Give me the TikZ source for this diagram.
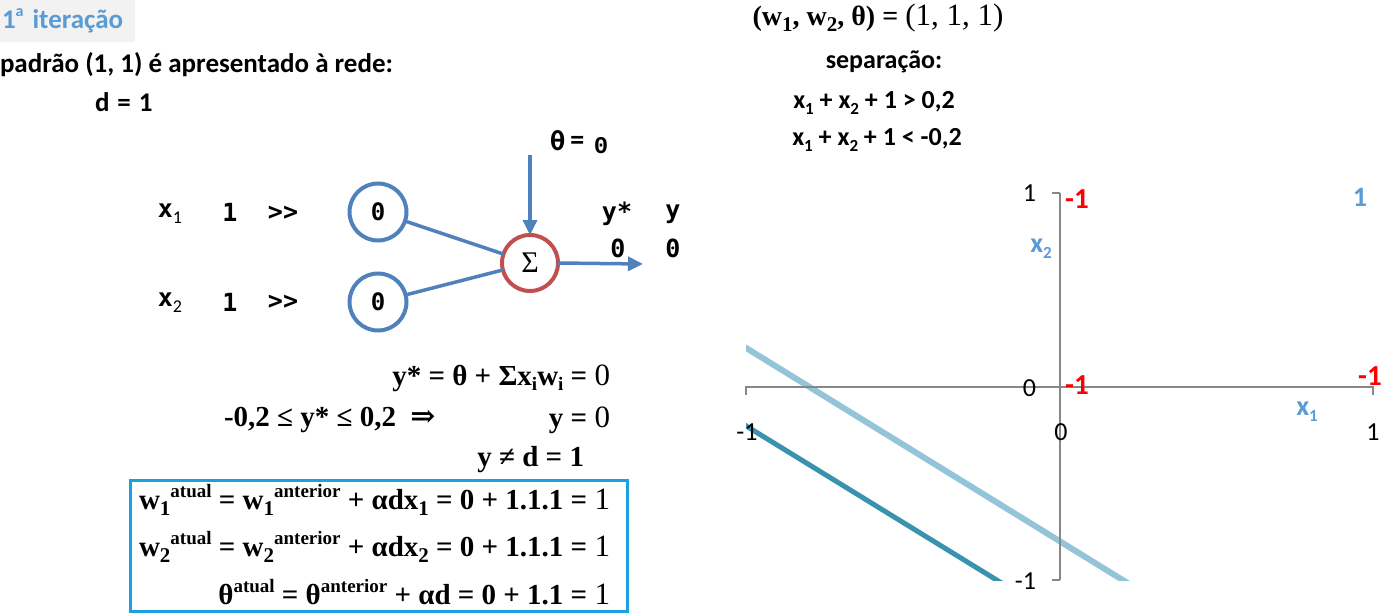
\documentclass[tikz,border=0pt]{standalone}
\usepackage{fontspec}
\setmainfont{Liberation Serif}
\newfontfamily\calib{Carlito}
\newfontfamily\dmono{DejaVu Sans Mono}
\newfontfamily\lmono{Liberation Mono}
\newfontfamily\dserif{DejaVu Serif}
\usetikzlibrary{arrows.meta}
\definecolor{titleblue}{HTML}{5B9BD5}
\definecolor{nblue}{HTML}{4F81BD}
\definecolor{nred}{HTML}{C0504D}
\definecolor{boxblue}{HTML}{1BA1E2}
\definecolor{lblue}{HTML}{93C4D8}
\definecolor{dteal}{HTML}{3A93AE}
\definecolor{axgray}{HTML}{878787}
\definecolor{bggray}{HTML}{F2F2F2}
\newcommand\fsz[1]{\fontsize{#1}{#1}\selectfont}
\newcommand\supx[1]{\raisebox{0.4em}{\fsz{19}#1}}
\newcommand\subx[1]{\raisebox{-0.2em}{\fsz{21}#1}}
\newcommand\subi[1]{\raisebox{-0.2em}{\fsz{19}#1}}
\newcommand\subc[1]{\raisebox{-0.2em}{\fsz{17}#1}}
\newcommand\subm[1]{\raisebox{-0.25em}{\calib\mdseries\fsz{18}#1}}
\newcommand\lastd[1]{{\mdseries\fsz{31}#1}}
\begin{document}
\begin{tikzpicture}[x=1pt,y=-1pt,
  every node/.style={inner sep=0pt, outer sep=0pt},
  cb/.style={font=\calib\bfseries\fsz{26}},
  mn/.style={font=\dmono\bfseries\fsz{25}},
  fml/.style={font=\bfseries\fsz{29}},
  incirc/.style={circle, draw=nblue, line width=4, minimum size=57, font=\dmono\bfseries\fsz{24}},
  sumcirc/.style={circle, draw=nred, line width=4, minimum size=56, font=\fsz{30}},
  conn/.style={nblue, line width=3.5},
  arr/.style={conn, -{Triangle[length=15pt,width=14pt]}},
  tick/.style={font=\calib\fsz{26}},
  redl/.style={font=\calib\bfseries\fsz{29}, text=red},
  axl/.style={font=\calib\bfseries\fsz{28}, text=titleblue}
]
\useasboundingbox (0,0) rectangle (1385,613);

% title and header
\node[anchor=north west, fill=bggray, minimum height=42, text width=131, inner xsep=2, align=left, font=\calib\bfseries\fsz{27}, text=titleblue] (title) at (0,0) {1\raisebox{0.45em}{\fsz{16}a} iteração};
\node[font=\calib\bfseries\fsz{27}, anchor=west] (pad) at (0,65) {padrão (1, 1) é apresentado à rede:};
\node[font=\calib\bfseries\fsz{27}, anchor=west] (d) at (95,102) {d\kern8pt=\kern8pt1};

% neuron
\node[mn] (x1) at (170,214) {x\subm{1}};
\node[mn] (v1) at (230,212) {1};
\node[mn] (g1) at (283,213) {>\kern0pt>};
\node[mn] (x2) at (170,303) {x\subm{2}};
\node[mn] (v2) at (230,302) {1};
\node[mn] (g2) at (283,302) {>\kern0pt>};

\node[incirc] (n1) at (378,212) {0};
\node[incirc] (n2) at (378,302) {0};
\node[sumcirc] (s) at (530,263) {Σ};
\draw[conn] (n1) -- (s);
\draw[conn] (n2) -- (s);
\coordinate (thtop) at (530,155);
\draw[arr] (thtop) -- (s.north);
\coordinate (yout) at (643,264);
\draw[arr] (s.east) -- (yout);

\node[font=\dmono\bfseries\fsz{26}] (th) at (567,141) {θ\kern5pt\raisebox{3pt}{\fsz{23}=}};
\node[font=\lmono\bfseries\fsz{24}] (thv) at (601,146) {0};
\node[mn] (ys) at (617,214) {y*};
\node[mn] (y) at (673,214) {y};
\node[mn] (ysv) at (618,248) {0};
\node[mn] (yv) at (673,248) {0};

% formulas
\node[fml, anchor=east] (f1) at (610,378) {y* = θ + Σx\subi{i}w\subi{i} = \lastd{0}};
\node[fml, anchor=west] (f2) at (224,420) {-0,2 ≤ y* ≤ 0,2\ \ {\dserif\bfseries\fsz{30}⇒}};
\node[fml, anchor=east] (f3) at (610,420) {y = \lastd{0}};
\node[fml, anchor=east] (f4) at (584,460) {y ≠ d = 1};

\node[draw=boxblue, line width=3, minimum width=497, minimum height=131] (box) at (378.5,546) {};
\node[fml, anchor=east] (r1) at (610,500) {w\subx{1}\supx{atual} = w\subx{1}\supx{anterior} + αdx\subx{1} = 0 + 1.1.1 = \lastd{1}};
\node[fml, anchor=east] (r2) at (610,547) {w\subx{2}\supx{atual} = w\subx{2}\supx{anterior} + αdx\subx{2} = 0 + 1.1.1 = \lastd{1}};
\node[fml, anchor=east] (r3) at (610,592) {θ\supx{atual} = θ\supx{anterior} + αd = 0 + 1.1 = \lastd{1}};

% right header
\node[font=\bfseries\fsz{28}] (wt) at (878,18) {(w\subx{1}, w\subx{2}, θ) = \lastd{(1, 1, 1)}};
\node[cb] (sep) at (884,62) {separação:};
\node[cb] (c1) at (874,103) {x\subc{1} + x\subc{2} + 1 > 0,2};
\node[cb] (c2) at (877,140) {x\subc{1} + x\subc{2} + 1 < -0,2};

% chart
\begin{scope}
\clip (746,193) rectangle (1373,580);
\draw[lblue, line width=6] (730,338) -- (1147,595);
\draw[dteal, line width=5] (730,416) -- (1021,595);
\end{scope}
\draw[axgray, line width=2] (746,387) -- (1373,387);
\draw[axgray, line width=2] (1060,193) -- (1060,580);
\draw[axgray, line width=2] (1052,193) -- (1060,193);
\draw[axgray, line width=2] (1052,580) -- (1060,580);
\draw[axgray, line width=2] (746,386) -- (746,395);
\draw[axgray, line width=2] (1373,386) -- (1373,395);

\node[tick, anchor=east] (ty1) at (1036,193) {1};
\node[tick, anchor=east] (ty0) at (1036,388) {0};
\node[tick, anchor=east] (tym) at (1036,581) {-1};
\node[tick] (txm) at (747,432) {-1};
\node[tick] (tx0) at (1061,432) {0};
\node[tick] (tx1) at (1373,432) {1};

\node[redl] (r1a) at (1077,199) {-1};
\node[redl] (r1b) at (1077,385) {-1};
\node[redl] (r1c) at (1370,376) {-1};
\node[axl] (b1) at (1360,197) {1};
\node[axl] (lx2) at (1041,249) {x\subc{2}};
\node[axl] (lx1) at (1307,412) {x\subc{1}};
\end{tikzpicture}
\end{document}
